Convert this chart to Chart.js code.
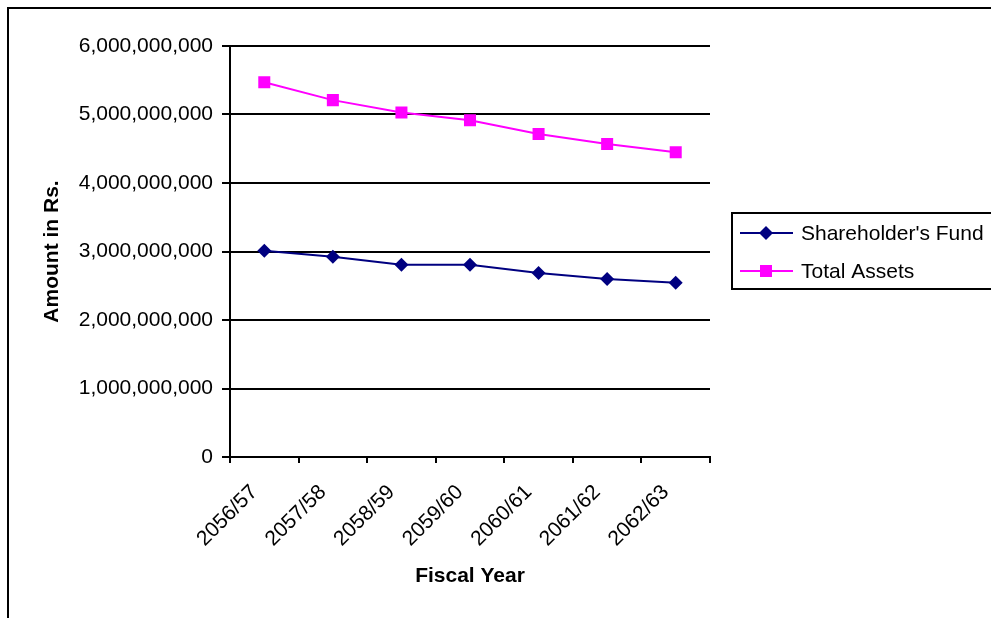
<!DOCTYPE html>
<html>
<head>
<meta charset="utf-8">
<script src="https://cdn.jsdelivr.net/npm/chart.js@4"></script>
<style>
  html, body { margin: 0; padding: 0; background: #fff; overflow: hidden; width: 991px; height: 618px; }
  #frame { position: absolute; left: 7px; top: 7px; width: 2000px; height: 2000px; border: 2px solid #000; }
  #c { position: absolute; left: 0; top: 0; }
</style>
</head>
<body>
<div id="frame"></div>
<canvas id="c" width="991" height="618"></canvas>
<script>
const categories = ['2056/57', '2057/58', '2058/59', '2059/60', '2060/61', '2061/62', '2062/63'];
const shareholdersFund = [3010000000, 2925000000, 2808000000, 2808000000, 2687000000, 2600000000, 2545000000];
const totalAssets = [5470000000, 5210000000, 5030000000, 4915000000, 4715000000, 4570000000, 4450000000];
const yTicks = [0, 1000000000, 2000000000, 3000000000, 4000000000, 5000000000, 6000000000];
const seriesNames = ["Shareholder's Fund", 'Total Assets'];

const FONT = '"Liberation Sans", Arial, sans-serif';
const FS = 21;

const legendPlugin = {
  id: 'boxLegend',
  afterDraw(chart) {
    const ctx = chart.ctx;
    ctx.save();
    ctx.strokeStyle = '#000';
    ctx.lineWidth = 2;
    ctx.strokeRect(732, 213, 300, 76);
    const rows = [233, 271];
    chart.data.datasets.forEach((ds, i) => {
      const y = rows[i];
      ctx.strokeStyle = ds.borderColor;
      ctx.lineWidth = 2;
      ctx.beginPath();
      ctx.moveTo(740, y);
      ctx.lineTo(793, y);
      ctx.stroke();
      ctx.fillStyle = ds.pointBackgroundColor;
      ctx.beginPath();
      if (ds.pointStyle === 'rectRot') {
        const r = 7;
        ctx.moveTo(766 - r, y); ctx.lineTo(766, y - r); ctx.lineTo(766 + r, y); ctx.lineTo(766, y + r);
        ctx.closePath();
      } else {
        ctx.rect(766 - 6, y - 6, 12, 12);
      }
      ctx.fill();
      ctx.fillStyle = '#000';
      ctx.font = FS + 'px ' + FONT;
      ctx.textBaseline = 'middle';
      ctx.textAlign = 'left';
      ctx.fillText(ds.label, 801, y + 1);
    });
    ctx.restore();
  }
};

new Chart(document.getElementById('c'), {
  type: 'line',
  data: {
    labels: categories,
    datasets: [
      {
        label: seriesNames[0],
        data: shareholdersFund,
        borderColor: '#000080',
        backgroundColor: '#000080',
        pointBackgroundColor: '#000080',
        pointBorderColor: '#000080',
        pointStyle: 'rectRot',
        pointRadius: 7,
        pointBorderWidth: 0,
        borderWidth: 2,
        tension: 0
      },
      {
        label: seriesNames[1],
        data: totalAssets,
        borderColor: '#FF00FF',
        backgroundColor: '#FF00FF',
        pointBackgroundColor: '#FF00FF',
        pointBorderColor: '#FF00FF',
        pointStyle: 'rect',
        pointRadius: 8.5,
        pointBorderWidth: 0,
        borderWidth: 2,
        tension: 0
      }
    ]
  },
  options: {
    responsive: false,
    animation: false,
    devicePixelRatio: 1,
    layout: { padding: { left: 36, right: 281, top: 46, bottom: 25 } },
    plugins: { legend: { display: false }, tooltip: { enabled: false } },
    scales: {
      x: {
        type: 'category',
        offset: true,
        grid: { display: true, drawOnChartArea: false, drawTicks: true, tickLength: 6, color: '#000', lineWidth: 2, offset: true },
        border: { display: true, color: '#000', width: 2 },
        ticks: { color: '#000', font: { family: FONT, size: FS }, minRotation: 45, maxRotation: 45, padding: 17, labelOffset: -10, autoSkip: false },
        title: { display: true, text: 'Fiscal Year', color: '#000', font: { family: FONT, size: FS, weight: 'bold' }, padding: { top: 4, bottom: 4 } },
        afterFit(scale) { scale.height = 136; }
      },
      y: {
        min: 0,
        max: 6000000000,
        afterBuildTicks(scale) { scale.ticks = yTicks.map(v => ({ value: v })); },
        grid: { color: '#000', lineWidth: 2, drawTicks: true, tickLength: 8 },
        border: { display: true, color: '#000', width: 2 },
        ticks: {
          color: '#000',
          font: { family: FONT, size: FS },
          padding: 9,
          callback: v => Number(v).toLocaleString('en-US')
        },
        title: { display: true, text: 'Amount in Rs.', color: '#000', font: { family: FONT, size: FS, weight: 'bold' }, padding: { top: 4, bottom: 4 } },
        afterFit(scale) { scale.width = 194; }
      }
    }
  },
  plugins: [legendPlugin]
});
</script>
</body>
</html>
